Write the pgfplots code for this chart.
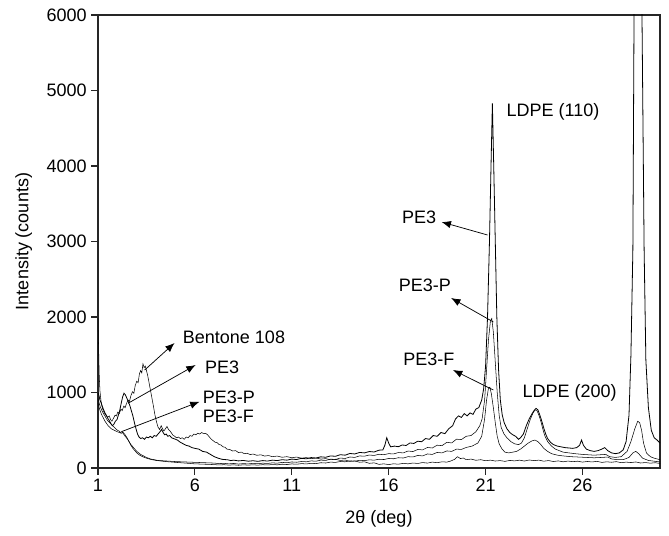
\documentclass[border=0pt]{standalone}
\usepackage{pgfplots}
\pgfplotsset{compat=1.18}
\usepackage{fontspec}
\setmainfont{Liberation Sans}
\usetikzlibrary{arrows.meta}

\begin{document}
\begin{tikzpicture}[font=\fontsize{13.5}{16}\selectfont]
\begin{axis}[
  scale only axis,
  width=421.5pt, height=339.75pt,
  xmin=1, xmax=30, ymin=0, ymax=6000,
  xtick={1,6,11,16,21,26},
  ytick={0,1000,2000,3000,4000,5000,6000},
  tick pos=left,
  tick align=outside,
  major tick length=5pt,
  /pgf/number format/assume math mode=true,
  /pgf/number format/1000 sep={},
  xlabel={2θ (deg)},
  ylabel={Intensity (counts)},
  xlabel style={yshift=-7pt},
  ylabel style={yshift=4pt},
  axis line style={line width=0.8pt, black!85},
  every tick/.style={line width=0.8pt, black!85},
  cycle list={{black, line width=0.6pt, no markers}},
  clip=true,
]
% Bentone 108
\addplot coordinates {
(1.00,1980)(1.03,1600)(1.06,1250)(1.10,1020)(1.15,900)(1.20,820)(1.27,760)(1.35,720)(1.42,700)(1.50,670)(1.58,690)(1.65,640)(1.72,620)(1.80,660)(1.88,700)(1.95,690)(2.02,740)(2.10,720)(2.18,780)(2.25,760)(2.33,820)(2.40,800)(2.48,860)(2.55,900)(2.62,880)(2.70,960)(2.78,1010)(2.85,990)(2.92,1090)(3.00,1150)(3.07,1130)(3.14,1250)(3.20,1290)(3.26,1260)(3.32,1380)(3.38,1330)(3.44,1350)(3.50,1290)(3.56,1230)(3.62,1150)(3.70,1040)(3.78,930)(3.86,820)(3.94,700)(4.02,610)(4.10,540)(4.18,510)(4.26,560)(4.33,520)(4.40,490)(4.48,520)(4.56,550)(4.64,510)(4.72,490)(4.80,460)(4.88,430)(4.96,420)(5.05,400)(5.15,410)(5.25,390)(5.35,400)(5.45,380)(5.55,410)(5.65,400)(5.75,430)(5.85,420)(5.95,450)(6.05,440)(6.15,460)(6.25,450)(6.35,470)(6.45,455)(6.55,460)(6.65,440)(6.75,410)(6.85,380)(6.95,360)
(7.05,340)(7.15,335)(7.25,310)(7.35,305)(7.45,280)(7.55,275)(7.65,250)(7.8,245)(7.95,225)(8.1,230)(8.25,205)(8.4,210)(8.55,190)(8.7,195)(8.85,178)(9.0,185)(9.2,168)(9.4,175)(9.6,158)(9.8,165)(10.0,150)(10.25,158)(10.5,142)(10.75,150)(11.0,136)(11.25,145)(11.5,130)(11.75,138)(12.0,124)(12.25,132)(12.5,118)(12.75,124)(13.0,110)(13.25,116)(13.5,100)(13.75,106)(14.0,88)(14.25,94)(14.5,76)(14.75,82)(15.0,62)(15.25,68)(15.5,48)(15.75,55)(16.0,45)(16.25,56)(16.5,50)(16.75,62)(17.0,55)(17.25,66)(17.5,60)(17.75,72)(18.0,65)(18.25,78)(18.5,70)(18.75,82)(19.0,78)(19.2,92)(19.4,115)(19.55,150)(19.7,125)(19.85,132)(20.0,110)(20.25,118)(20.5,102)(20.75,110)(21.0,96)(21.25,104)(21.5,92)(21.75,98)(22.0,88)(22.25,100)(22.5,94)(22.75,104)(23.0,92)(23.25,106)(23.5,98)(23.75,104)(24.0,90)(24.25,98)(24.5,86)(24.75,94)(25.0,82)(25.25,92)(25.5,84)(25.75,90)(26.0,78)(26.25,86)(26.5,80)(26.75,88)(27.0,74)(27.25,82)(27.5,76)(27.75,84)(28.0,70)(28.25,78)(28.5,72)(28.75,80)(29.0,66)(29.25,72)(29.5,64)(29.75,70)(30.0,60)
};
% PE3
\addplot coordinates {
(1.00,1000)(1.05,960)(1.10,900)(1.18,850)(1.26,790)(1.34,740)(1.42,700)(1.50,660)(1.58,630)(1.66,590)(1.74,560)(1.82,580)(1.90,620)(1.98,640)(2.05,700)(2.12,760)(2.20,860)(2.27,940)(2.34,990)(2.41,970)(2.48,930)(2.56,880)(2.64,830)(2.72,760)(2.80,690)(2.88,600)(2.96,520)(3.04,450)(3.12,410)(3.20,390)(3.30,400)(3.40,380)(3.50,410)(3.60,400)(3.70,420)(3.80,400)(3.90,430)(4.00,420)(4.10,450)(4.20,480)(4.28,510)(4.36,470)(4.44,440)(4.52,450)(4.60,420)(4.70,430)(4.80,400)(4.90,390)(5.00,380)(5.10,370)(5.25,340)(5.40,320)(5.55,300)(5.70,290)(5.85,270)(6.00,260)(6.20,250)(6.40,220)(6.60,210)(6.80,180)(7.00,150)(7.20,130)(7.40,115)
(7.7,108)(7.85,98)(8.0,104)(8.25,94)(8.5,100)(8.75,90)(9.0,96)(9.25,88)(9.5,98)(9.75,92)(10.0,104)(10.25,98)(10.5,110)(10.75,104)(11.0,118)(11.25,112)(11.5,128)(11.75,122)(12.0,138)(12.25,132)(12.5,148)(12.75,142)(13.0,160)(13.25,155)(13.5,176)(13.75,170)(14.0,192)(14.25,186)(14.5,206)(14.75,200)(15.0,218)(15.25,212)(15.5,236)(15.7,240)(15.8,300)(15.9,400)(16.0,330)(16.1,280)(16.3,290)(16.5,282)(16.7,305)(16.9,298)(17.1,332)(17.3,325)(17.5,355)(17.7,348)(17.9,390)(18.1,380)(18.3,430)(18.5,420)(18.7,470)(18.9,455)(19.1,520)(19.3,560)(19.45,650)(19.6,690)(19.75,670)(19.9,720)(20.05,690)(20.2,730)(20.35,710)(20.5,780)(20.65,800)(20.8,900)
(20.9,1050)(21.0,1350)(21.1,2000)(21.2,3000)(21.28,4000)(21.35,4830)(21.42,4000)(21.5,3000)(21.58,2000)(21.67,1300)(21.76,900)(21.86,700)(21.96,600)(22.1,520)(22.25,470)(22.4,440)(22.55,420)(22.7,380)(22.8,400)(22.95,450)(23.1,560)(23.25,650)(23.4,720)(23.5,760)(23.6,790)(23.7,770)(23.8,700)(23.9,620)(24.0,530)(24.1,450)(24.2,390)(24.35,340)(24.5,310)(24.7,290)(24.9,280)(25.1,270)(25.3,265)(25.5,260)(25.7,270)(25.85,300)(25.95,370)(26.05,300)(26.2,250)(26.4,230)(26.6,220)(26.8,230)(27.0,250)(27.15,270)(27.3,230)(27.5,200)(27.7,190)(27.9,200)(28.1,240)(28.25,350)(28.4,700)(28.5,1500)(28.6,2900)(28.66,6000)(28.85,14000)(29.07,6000)(29.18,2900)(29.27,1430)(29.4,800)(29.55,500)(29.7,400)(29.85,370)(30.0,330)
};
% PE3-P
\addplot coordinates {
(1.00,920)(1.06,860)(1.12,810)(1.20,760)(1.28,720)(1.36,690)(1.44,650)(1.52,620)(1.60,600)(1.68,580)(1.76,560)(1.84,540)(1.92,520)(2.00,500)(2.08,490)(2.16,470)(2.24,480)(2.32,450)(2.40,420)(2.50,390)(2.60,350)(2.70,310)(2.80,280)(2.90,250)(3.00,220)(3.10,200)(3.20,180)(3.35,160)(3.50,140)(3.70,120)(3.90,110)(4.10,100)(4.40,95)(4.70,90)(5.0,85)(5.5,80)(6.0,75)(6.5,70)
(7,65)(7.25,58)(7.5,62)(7.75,55)(8,60)(8.25,52)(8.5,58)(8.75,54)(9,62)(9.25,56)(9.5,64)(9.75,60)(10,68)(10.25,64)(10.5,74)(10.75,70)(11,80)(11.25,76)(11.5,86)(11.75,82)(12,94)(12.25,90)(12.5,104)(12.75,100)(13,118)(13.25,112)(13.5,132)(13.75,126)(14,146)(14.25,140)(14.5,160)(14.75,156)(15,172)(15.25,166)(15.5,182)(15.75,176)(16,190)(16.25,186)(16.5,205)(16.75,200)(17,225)(17.25,218)(17.5,245)(17.75,240)(18,272)(18.25,265)(18.5,302)(18.75,296)(19,340)(19.25,332)(19.5,382)(19.75,376)(20,420)(20.25,430)(20.5,480)(20.7,560)
(20.82,650)(20.95,900)(21.05,1300)(21.15,1700)(21.25,1950)(21.32,1980)(21.4,1800)(21.5,1400)(21.6,1000)(21.7,700)(21.8,540)(21.95,450)(22.1,400)(22.3,350)(22.5,320)(22.7,310)(22.85,330)(23.0,400)(23.15,520)(23.3,640)(23.45,730)(23.55,770)(23.65,760)(23.75,700)(23.85,620)(23.95,520)(24.05,430)(24.2,350)(24.4,290)(24.6,250)(24.8,230)(25.0,210)(25.3,200)(25.6,190)(26.0,180)(26.3,175)(26.6,170)(26.9,175)(27.2,180)(27.4,150)(27.7,140)(28.0,150)(28.3,220)(28.5,350)(28.7,520)(28.85,620)(28.95,600)(29.05,500)(29.15,330)(29.3,200)(29.5,150)(29.7,130)(30,110)
};
% PE3-F
\addplot coordinates {
(1.00,860)(1.06,800)(1.12,750)(1.20,700)(1.28,660)(1.36,620)(1.44,590)(1.52,560)(1.60,540)(1.68,520)(1.76,510)(1.84,500)(1.92,490)(2.00,480)(2.10,470)(2.20,460)(2.30,470)(2.40,440)(2.50,400)(2.60,350)(2.70,300)(2.80,260)(2.90,230)(3.00,200)(3.15,170)(3.30,150)(3.50,130)(3.70,115)(4.0,100)(4.5,85)(5,75)(5.5,65)(6,55)(6.5,50)
(7,45)(7.25,40)(7.5,44)(7.75,38)(8,42)(8.25,36)(8.5,42)(8.75,38)(9,42)(9.25,38)(9.5,44)(9.75,40)(10,46)(10.25,42)(10.5,50)(10.75,46)(11,54)(11.25,50)(11.5,58)(11.75,54)(12,62)(12.25,58)(12.5,70)(12.75,66)(13,78)(13.25,74)(13.5,86)(13.75,82)(14,94)(14.25,90)(14.5,102)(14.75,98)(15,108)(15.25,104)(15.5,116)(15.75,112)(16,126)(16.25,122)(16.5,136)(16.75,132)(17,150)(17.25,146)(17.5,166)(17.75,160)(18,186)(18.25,180)(18.5,206)(18.75,200)(19,226)(19.25,220)(19.5,250)(19.75,246)(20,272)(20.3,290)(20.6,330)
(20.8,420)(20.95,650)(21.05,900)(21.15,1060)(21.22,1070)(21.3,980)(21.4,800)(21.5,600)(21.6,420)(21.7,320)(21.85,250)(22.0,210)(22.2,200)(22.4,210)(22.6,220)(22.8,250)(23.0,290)(23.2,330)(23.4,360)(23.55,370)(23.7,350)(23.85,310)(24.0,260)(24.2,220)(24.4,190)(24.7,170)(25.0,160)(25.4,150)(25.8,145)(26.2,140)(26.6,135)(27.0,140)(27.3,145)(27.5,120)(27.8,110)(28.1,110)(28.4,140)(28.6,200)(28.75,220)(28.9,190)(29.1,130)(29.4,100)(29.7,90)(30,80)
};
% annotations
\node[anchor=west, inner sep=0] at (axis cs:5.37,1735) {Bentone 108};
\draw[-{Latex[length=7pt,width=5.5pt]}, line width=0.55pt] (axis cs:3.41,1298) -- (axis cs:4.95,1656);
\node[anchor=west, inner sep=0] at (axis cs:6.51,1338) {PE3};
\draw[-{Latex[length=7pt,width=5.5pt]}, line width=0.55pt] (axis cs:2.55,857) -- (axis cs:6.04,1364);
\node[anchor=west, inner sep=0] at (axis cs:6.40,940) {PE3-P};
\node[anchor=west, inner sep=0] at (axis cs:6.40,682) {PE3-F};
\draw[-{Latex[length=7pt,width=5.5pt]}, line width=0.55pt] (axis cs:2.21,481) -- (axis cs:6.24,878);
\node[anchor=west, inner sep=0] at (axis cs:22.07,4715) {LDPE (110)};
\node[anchor=east, inner sep=0] at (axis cs:18.46,3325) {PE3};
\draw[-{Latex[length=7pt,width=5.5pt]}, line width=0.55pt] (axis cs:21.1,3086) -- (axis cs:18.73,3258);
\node[anchor=east, inner sep=0] at (axis cs:19.22,2424) {PE3-P};
\draw[-{Latex[length=7pt,width=5.5pt]}, line width=0.55pt] (axis cs:21.4,1934) -- (axis cs:19.22,2252);
\node[anchor=east, inner sep=0] at (axis cs:19.4,1444) {PE3-F};
\draw[-{Latex[length=7pt,width=5.5pt]}, line width=0.55pt] (axis cs:21.4,1033) -- (axis cs:19.32,1298);
\node[anchor=west, inner sep=0] at (axis cs:22.9,993) {LDPE (200)};
\end{axis}
\pgfresetboundingbox
\path[use as bounding box] ([shift={(-73.5pt,-51pt)}]current axis.south west) rectangle ([shift={(6.75pt,11.25pt)}]current axis.north east);
\end{tikzpicture}
\end{document}
